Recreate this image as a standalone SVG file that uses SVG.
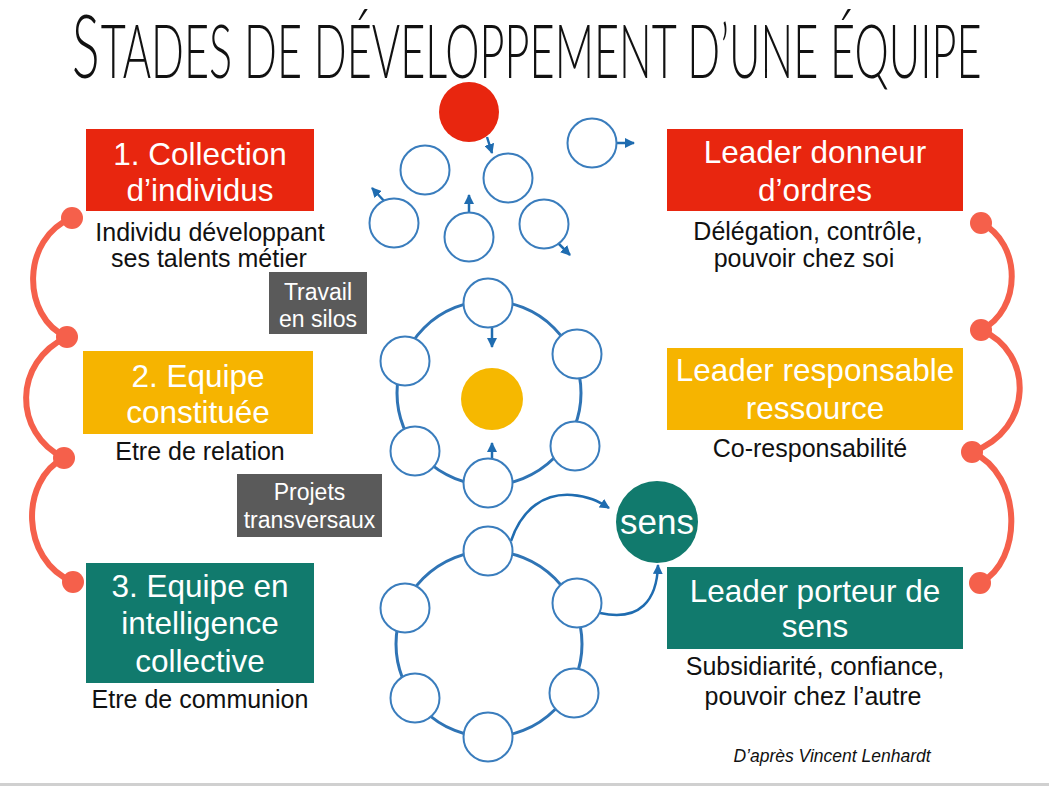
<svg xmlns="http://www.w3.org/2000/svg" width="1049" height="786" viewBox="0 0 1049 786">
<style>
.box-t{font-family:"Liberation Sans",Arial,sans-serif;font-size:31.5px;fill:#fff;text-anchor:middle}
.sub{font-family:"Liberation Sans",Arial,sans-serif;font-size:25px;fill:#111;text-anchor:middle}
.tag{font-family:"Liberation Sans",Arial,sans-serif;font-size:23px;fill:#fff;text-anchor:middle}
.ttl{font-family:Lato,"DejaVu Sans",sans-serif;font-weight:300;fill:#111}
.pc{fill:#fff;stroke:#3a7dbd;stroke-width:2}
.ring{fill:none;stroke:#2f74b5;stroke-width:3}
.chain{fill:none;stroke:#f5604b;stroke-width:6;stroke-linecap:round}
.dot{fill:#f5604b}
.arr{fill:none;stroke:#1f6cb0;stroke-width:2.5}
</style>
<defs>
<marker id="ah" viewBox="0 0 10 10" refX="9" refY="5" markerWidth="10" markerHeight="10" markerUnits="userSpaceOnUse" orient="auto"><path d="M0,0 L10,5 L0,10 z" fill="#1f6cb0"/></marker>
</defs>
<rect x="0" y="0" width="1049" height="786" fill="#fff"/>
<rect x="0" y="783" width="1049" height="3" fill="#d0d0d0"/>

<g id="title">
<text class="ttl" transform="translate(72,78) scale(0.585,1)" x="0" y="0" font-size="88">S<tspan font-size="74" dx="2">TADES DE DÉVELOPPEMENT D’UNE ÉQUIPE</tspan></text>
</g>

<g id="connectors">
<path class="chain" d="M72,218 C21,238 21,317 67,337"/>
<path class="chain" d="M67,337 C13,362 13,433 64,458"/>
<path class="chain" d="M64,458 C20,480 20,560 73,582"/>
<path class="chain" d="M981,223 C1022,243 1022,310 981,330"/>
<path class="chain" d="M981,330 C1034,352 1034,430 972,452"/>
<path class="chain" d="M972,452 C1023,475 1023,561 980,583"/>
<path class="arr" d="M487,137 L492,153" marker-end="url(#ah)"/>
<path class="arr" d="M617,143 L634,143" marker-end="url(#ah)"/>
<path class="arr" d="M386,203 L372,188" marker-end="url(#ah)"/>
<path class="arr" d="M469,213 L469,195" marker-end="url(#ah)"/>
<path class="arr" d="M557,242 L570,255" marker-end="url(#ah)"/>
<path class="arr" d="M492,328 L492,347" marker-end="url(#ah)"/>
<path class="arr" d="M492,464 L492,443" marker-end="url(#ah)"/>
<path class="arr" d="M511,541 C522,508 545,493 572,495 C588,496 598,501 609,508" marker-end="url(#ah)"/>
<path class="arr" d="M600,613 C640,622 657,600 658,565" marker-end="url(#ah)"/>
</g>

<g id="chain-dots">
<circle class="dot" cx="72" cy="218" r="11"/>
<circle class="dot" cx="67" cy="337" r="11"/>
<circle class="dot" cx="64" cy="458" r="11"/>
<circle class="dot" cx="73" cy="582" r="11"/>
<circle class="dot" cx="981" cy="223" r="11"/>
<circle class="dot" cx="981" cy="330" r="11"/>
<circle class="dot" cx="972" cy="452" r="11"/>
<circle class="dot" cx="980" cy="583" r="11"/>
</g>

<g id="stage1">
<rect x="86" y="129" width="228" height="82" fill="#e8260f"/>
<text class="box-t" x="200" y="165">1. Collection</text>
<text class="box-t" x="200" y="201">d’individus</text>
<text class="sub" x="210" y="241">Individu développant</text>
<text class="sub" x="209" y="267">ses talents métier</text>
</g>

<g id="stage2">
<rect x="83" y="351" width="230" height="83" fill="#f6b400"/>
<text class="box-t" x="198" y="387">2. Equipe</text>
<text class="box-t" x="198" y="423">constituée</text>
<text class="sub" x="200" y="460">Etre de relation</text>
</g>

<g id="stage3">
<rect x="86" y="563" width="228" height="120" fill="#117a6d"/>
<text class="box-t" x="200" y="597">3. Equipe en</text>
<text class="box-t" x="200" y="634">intelligence</text>
<text class="box-t" x="200" y="672">collective</text>
<text class="sub" x="200" y="708">Etre de communion</text>
</g>

<g id="leader1">
<rect x="667" y="129" width="296" height="82" fill="#e8260f"/>
<text class="box-t" x="815" y="163">Leader donneur</text>
<text class="box-t" x="815" y="201">d’ordres</text>
<text class="sub" x="808" y="240">Délégation, contrôle,</text>
<text class="sub" x="804" y="267">pouvoir chez soi</text>
</g>

<g id="leader2">
<rect x="667" y="348" width="296" height="82" fill="#f6b400"/>
<text class="box-t" x="815" y="381">Leader responsable</text>
<text class="box-t" x="815" y="419">ressource</text>
<text class="sub" x="810" y="457">Co-responsabilité</text>
</g>

<g id="leader3">
<rect x="667" y="567" width="296" height="82" fill="#117a6d"/>
<text class="box-t" x="815" y="602">Leader porteur de</text>
<text class="box-t" x="815" y="637">sens</text>
<text class="sub" x="815" y="675">Subsidiarité, confiance,</text>
<text class="sub" x="813" y="705">pouvoir chez l’autre</text>
</g>

<g id="tag-silos">
<rect x="269" y="272" width="98" height="62" fill="#5a5a5a"/>
<text class="tag" x="318" y="300">Travail</text>
<text class="tag" x="318" y="327">en silos</text>
</g>

<g id="tag-projets">
<rect x="237" y="474" width="145" height="63" fill="#5a5a5a"/>
<text class="tag" x="309.5" y="500">Projets</text>
<text class="tag" x="309.5" y="528">transversaux</text>
</g>

<g id="cluster1">
<circle cx="469" cy="112" r="30" fill="#e8260f"/>
<circle class="pc" cx="425" cy="170" r="24.5"/>
<circle class="pc" cx="508" cy="178" r="24.5"/>
<circle class="pc" cx="592" cy="143" r="24.5"/>
<circle class="pc" cx="394" cy="223" r="24.5"/>
<circle class="pc" cx="469" cy="237" r="24.5"/>
<circle class="pc" cx="544" cy="224" r="24.5"/>
</g>

<g id="cluster2">
<circle class="ring" cx="489" cy="393" r="92"/>
<circle cx="492" cy="399" r="31" fill="#f6b800"/>
<circle class="pc" cx="488" cy="303" r="24.5"/>
<circle class="pc" cx="405" cy="361" r="24.5"/>
<circle class="pc" cx="577" cy="354" r="24.5"/>
<circle class="pc" cx="415" cy="451" r="24.5"/>
<circle class="pc" cx="575" cy="446" r="24.5"/>
<circle class="pc" cx="488" cy="483" r="24.5"/>
</g>

<g id="cluster3">
<circle class="ring" cx="489" cy="644" r="93"/>
<circle class="pc" cx="488" cy="551" r="24.5"/>
<circle class="pc" cx="405" cy="608" r="24.5"/>
<circle class="pc" cx="577" cy="603" r="24.5"/>
<circle class="pc" cx="415" cy="698" r="24.5"/>
<circle class="pc" cx="574" cy="693" r="24.5"/>
<circle class="pc" cx="488" cy="737" r="24.5"/>
</g>

<g id="sens">
<circle cx="657" cy="522" r="41" fill="#117a6d"/>
<text x="657" y="534" text-anchor="middle" font-family="'Liberation Sans',Arial,sans-serif" font-size="35" fill="#fff">sens</text>
</g>

<g id="credit">
<text x="832" y="762" text-anchor="middle" font-family="'Liberation Sans',Arial,sans-serif" font-size="17.5" font-style="italic" fill="#111">D’après Vincent Lenhardt</text>
</g>
</svg>
